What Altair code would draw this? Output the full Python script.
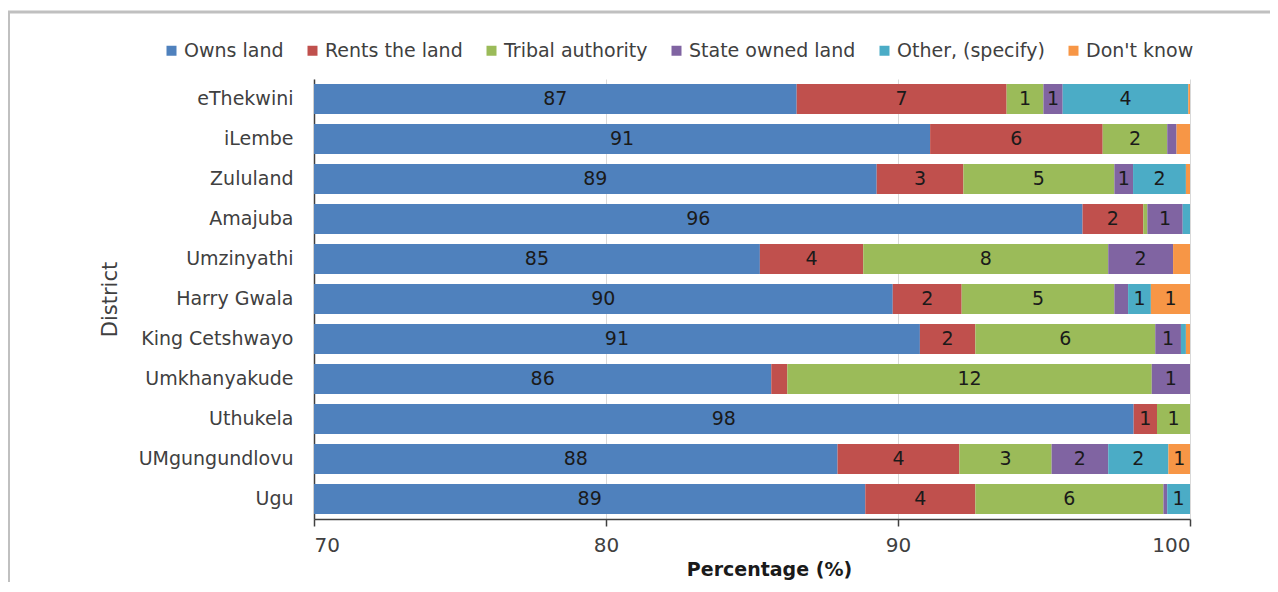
import altair as alt
import pandas as pd

districts = ["eThekwini", "iLembe", "Zululand", "Amajuba", "Umzinyathi", "Harry Gwala",
             "King Cetshwayo", "Umkhanyakude", "Uthukela", "UMgungundlovu", "Ugu"]
categories = ["Owns land", "Rents the land", "Tribal authority", "State owned land",
              "Other, (specify)", "Don't know"]
colors = ["#4F81BD", "#C0504D", "#9BBB59", "#8064A2", "#4BACC6", "#F79646"]

owns = [86.53, 91.10, 89.27, 96.32, 85.27, 89.82, 90.75, 85.66, 98.07, 87.93, 88.88]
rents = [7.19, 5.91, 2.97, 2.08, 3.54, 2.36, 1.90, 0.55, 0.80, 4.17, 3.77]
tribal = [1.26, 2.21, 5.17, 0.14, 8.39, 5.23, 6.16, 12.48, 1.13, 3.16, 6.44]
state = [0.66, 0.32, 0.64, 1.21, 2.22, 0.47, 0.88, 1.31, 0.00, 1.94, 0.13]
other = [4.30, 0.00, 1.81, 0.25, 0.00, 0.78, 0.17, 0.00, 0.00, 2.06, 0.78]
dontknow = [0.06, 0.46, 0.14, 0.00, 0.58, 1.34, 0.14, 0.00, 0.00, 0.74, 0.00]

series = [owns, rents, tribal, state, other, dontknow]
rows = []
for ci, (cat, vals) in enumerate(zip(categories, series)):
    for d, v in zip(districts, vals):
        rows.append({"district": d, "category": cat, "order": ci, "value": v})
df = pd.DataFrame(rows)

FONT = "DejaVu Sans"
TXT = "#404040"

base = alt.Chart(df).transform_stack(
    stack="value", as_=["x0", "x1"], groupby=["district"],
    sort=[alt.SortField("order", order="ascending")]
).transform_calculate(
    mid="(max(datum.x0, 70) + datum.x1) / 2",
    label="datum.value >= 0.62 ? format(round(datum.value), 'd') : ''"
)

yenc = alt.Y("district:N", sort=districts,
             scale=alt.Scale(paddingInner=0.25, paddingOuter=0.125),
             axis=alt.Axis(title="District", labelFont=FONT, labelFontSize=19,
                           labelColor=TXT, labelPadding=21, ticks=False,
                           domainColor=TXT, domainWidth=1.5,
                           titleFont=FONT, titleFontSize=21, titleFontWeight="normal",
                           titleColor=TXT, titleX=-204, titleY=220, titleAngle=270,
                           titleAlign="center", titleBaseline="middle"))

xscale = alt.Scale(domain=[70, 100], nice=False, zero=False)

bars = base.mark_bar(clip=True).encode(
    x=alt.X("x0:Q", scale=xscale,
            axis=alt.Axis(values=[70, 80, 90, 100], title="Percentage (%)",
                          labelFont=FONT, labelFontSize=20, labelColor=TXT,
                          labelPadding=9, tickSize=7, tickColor=TXT, tickWidth=1.5,
                          domainColor=TXT, domainWidth=1.5,
                          grid=True, gridColor="#d9d9d9", gridWidth=1,
                          titleFont=FONT, titleFontSize=19, titleFontWeight="bold",
                          titleColor="#1a1a1a", titleX=455, titleY=50,
                          titleAlign="center", titleBaseline="middle")),
    x2="x1:Q",
    y=yenc,
    color=alt.Color("category:N", sort=categories,
                    scale=alt.Scale(domain=categories, range=colors),
                    legend=alt.Legend(orient="none", legendX=-152, legendY=-38,
                                      direction="horizontal", columns=6, title=None,
                                      symbolType="square", symbolSize=100,
                                      symbolStrokeWidth=0, symbolOpacity=1,
                                      labelFont=FONT, labelFontSize=19, labelColor=TXT,
                                      labelLimit=0, labelOffset=3, columnPadding=19)),
    order=alt.Order("order:Q")
)

labels = base.mark_text(font=FONT, fontSize=19, color="#1a1a1a",
                        align="center", baseline="middle").encode(
    x=alt.X("mid:Q", scale=xscale),
    y=alt.Y("district:N", sort=districts),
    text="label:N"
)

frame = alt.Chart(pd.DataFrame({"f": [1]})).mark_rect(
    fill=None, stroke="#c0c0c0", strokeWidth=3, clip=False
).encode(x=alt.value(-305.5), x2=alt.value(1200), y=alt.value(-67), y2=alt.value(700))

chart = alt.layer(frame, bars, labels).properties(
    width=876, height=440,
    autosize=alt.AutoSizeParams(type="none"),
    padding={"left": 306, "top": 71, "right": 80, "bottom": 63},
    background="white"
).configure_view(stroke=None)

chart.save("out.html", embed_options={"renderer": "svg", "actions": False})
